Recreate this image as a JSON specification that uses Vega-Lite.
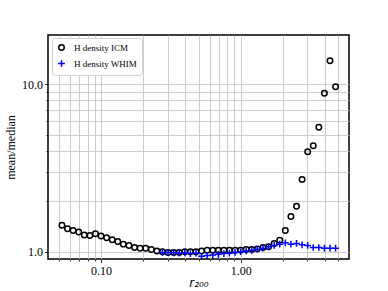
{
  "$schema": "https://vega.github.io/schema/vega-lite/v6.json",
  "autosize": "none",
  "width": 301,
  "height": 224,
  "padding": {"left": 48, "top": 35, "right": 39, "bottom": 32},
  "background": "white",
  "config": {
    "view": {"stroke": "black", "strokeWidth": 1.5},
    "axis": {"domain": false, "labelColor": "black", "titleColor": "black", "tickColor": "black", "tickWidth": 0.8}
  },
  "data": {"values": [
    {"r": 0.0525, "v": 1.44, "s": "H density ICM"},
    {"r": 0.0575, "v": 1.37, "s": "H density ICM"},
    {"r": 0.0631, "v": 1.34, "s": "H density ICM"},
    {"r": 0.0692, "v": 1.31, "s": "H density ICM"},
    {"r": 0.0759, "v": 1.26, "s": "H density ICM"},
    {"r": 0.0832, "v": 1.25, "s": "H density ICM"},
    {"r": 0.0912, "v": 1.28, "s": "H density ICM"},
    {"r": 0.1, "v": 1.24, "s": "H density ICM"},
    {"r": 0.1096, "v": 1.21, "s": "H density ICM"},
    {"r": 0.1202, "v": 1.18, "s": "H density ICM"},
    {"r": 0.1318, "v": 1.15, "s": "H density ICM"},
    {"r": 0.1445, "v": 1.11, "s": "H density ICM"},
    {"r": 0.1585, "v": 1.09, "s": "H density ICM"},
    {"r": 0.1738, "v": 1.06, "s": "H density ICM"},
    {"r": 0.1905, "v": 1.05, "s": "H density ICM"},
    {"r": 0.2089, "v": 1.05, "s": "H density ICM"},
    {"r": 0.2291, "v": 1.03, "s": "H density ICM"},
    {"r": 0.2512, "v": 1.01, "s": "H density ICM"},
    {"r": 0.2754, "v": 1.0, "s": "H density ICM"},
    {"r": 0.302, "v": 0.99, "s": "H density ICM"},
    {"r": 0.3311, "v": 0.99, "s": "H density ICM"},
    {"r": 0.3631, "v": 0.99, "s": "H density ICM"},
    {"r": 0.3981, "v": 1.0, "s": "H density ICM"},
    {"r": 0.4365, "v": 1.0, "s": "H density ICM"},
    {"r": 0.4786, "v": 1.0, "s": "H density ICM"},
    {"r": 0.5248, "v": 1.01, "s": "H density ICM"},
    {"r": 0.5754, "v": 1.02, "s": "H density ICM"},
    {"r": 0.631, "v": 1.02, "s": "H density ICM"},
    {"r": 0.6918, "v": 1.02, "s": "H density ICM"},
    {"r": 0.7586, "v": 1.02, "s": "H density ICM"},
    {"r": 0.8318, "v": 1.02, "s": "H density ICM"},
    {"r": 0.912, "v": 1.02, "s": "H density ICM"},
    {"r": 1.0, "v": 1.02, "s": "H density ICM"},
    {"r": 1.0965, "v": 1.03, "s": "H density ICM"},
    {"r": 1.2023, "v": 1.03, "s": "H density ICM"},
    {"r": 1.3183, "v": 1.04, "s": "H density ICM"},
    {"r": 1.4454, "v": 1.06, "s": "H density ICM"},
    {"r": 1.5849, "v": 1.07, "s": "H density ICM"},
    {"r": 1.7378, "v": 1.12, "s": "H density ICM"},
    {"r": 1.9055, "v": 1.17, "s": "H density ICM"},
    {"r": 2.0893, "v": 1.34, "s": "H density ICM"},
    {"r": 2.2909, "v": 1.62, "s": "H density ICM"},
    {"r": 2.5119, "v": 1.87, "s": "H density ICM"},
    {"r": 2.7542, "v": 2.7, "s": "H density ICM"},
    {"r": 3.02, "v": 3.95, "s": "H density ICM"},
    {"r": 3.3113, "v": 4.29, "s": "H density ICM"},
    {"r": 3.6308, "v": 5.52, "s": "H density ICM"},
    {"r": 3.9811, "v": 8.8, "s": "H density ICM"},
    {"r": 4.3652, "v": 13.77, "s": "H density ICM"},
    {"r": 4.7863, "v": 9.64, "s": "H density ICM"},
    {"r": 0.2754, "v": 0.99, "s": "H density WHIM"},
    {"r": 0.302, "v": 0.99, "s": "H density WHIM"},
    {"r": 0.3311, "v": 0.985, "s": "H density WHIM"},
    {"r": 0.3631, "v": 0.98, "s": "H density WHIM"},
    {"r": 0.3981, "v": 0.985, "s": "H density WHIM"},
    {"r": 0.4365, "v": 0.975, "s": "H density WHIM"},
    {"r": 0.4786, "v": 0.98, "s": "H density WHIM"},
    {"r": 0.5248, "v": 0.94, "s": "H density WHIM"},
    {"r": 0.5754, "v": 0.95, "s": "H density WHIM"},
    {"r": 0.631, "v": 0.955, "s": "H density WHIM"},
    {"r": 0.6918, "v": 0.965, "s": "H density WHIM"},
    {"r": 0.7586, "v": 0.975, "s": "H density WHIM"},
    {"r": 0.8318, "v": 0.98, "s": "H density WHIM"},
    {"r": 0.912, "v": 0.99, "s": "H density WHIM"},
    {"r": 1.0, "v": 1.0, "s": "H density WHIM"},
    {"r": 1.0965, "v": 1.01, "s": "H density WHIM"},
    {"r": 1.2023, "v": 1.02, "s": "H density WHIM"},
    {"r": 1.3183, "v": 1.035, "s": "H density WHIM"},
    {"r": 1.4454, "v": 1.05, "s": "H density WHIM"},
    {"r": 1.5849, "v": 1.07, "s": "H density WHIM"},
    {"r": 1.7378, "v": 1.09, "s": "H density WHIM"},
    {"r": 1.9055, "v": 1.11, "s": "H density WHIM"},
    {"r": 2.0893, "v": 1.13, "s": "H density WHIM"},
    {"r": 2.2909, "v": 1.11, "s": "H density WHIM"},
    {"r": 2.5119, "v": 1.12, "s": "H density WHIM"},
    {"r": 2.7542, "v": 1.1, "s": "H density WHIM"},
    {"r": 3.02, "v": 1.09, "s": "H density WHIM"},
    {"r": 3.3113, "v": 1.06, "s": "H density WHIM"},
    {"r": 3.6308, "v": 1.06, "s": "H density WHIM"},
    {"r": 3.9811, "v": 1.05, "s": "H density WHIM"},
    {"r": 4.3652, "v": 1.05, "s": "H density WHIM"},
    {"r": 4.7863, "v": 1.05, "s": "H density WHIM"}
  ]},
  "mark": {"type": "point", "filled": false, "strokeWidth": 1.5, "opacity": 1},
  "encoding": {
    "x": {
      "field": "r", "type": "quantitative",
      "scale": {"type": "log", "domain": [0.0417, 5.97], "nice": false},
      "axis": {
        "values": [0.05, 0.06, 0.07, 0.08, 0.09, 0.1, 0.2, 0.3, 0.4, 0.5, 0.6, 0.7, 0.8, 0.9, 1, 2, 3, 4, 5],
        "labelExpr": "datum.value == 0.1 ? '0.10' : (datum.value == 1 ? '1.00' : '')",
        "tickSize": {"condition": {"test": "datum.value == 0.1 || datum.value == 1", "value": 3.5}, "value": 2},
        "grid": true, "gridColor": "#c0c0c0", "gridWidth": 0.8,
        "labelFont": "Liberation Serif", "labelFontSize": 12, "labelPadding": 3,
        "title": "r₂₀₀", "titleFont": "DejaVu Sans", "titleFontStyle": "italic", "titleFontWeight": "normal",
        "titleFontSize": 12, "titlePadding": 1
      }
    },
    "y": {
      "field": "v", "type": "quantitative",
      "scale": {"type": "log", "domain": [0.905, 19.6], "nice": false},
      "axis": {
        "values": [1, 2, 3, 4, 5, 6, 7, 8, 9, 10],
        "labelExpr": "datum.value == 1 ? '1.0' : (datum.value == 10 ? '10.0' : '')",
        "tickSize": {"condition": {"test": "datum.value == 1 || datum.value == 10", "value": 3.5}, "value": 2},
        "grid": true, "gridColor": "#c0c0c0", "gridWidth": 0.8,
        "labelFont": "Liberation Serif", "labelFontSize": 12, "labelPadding": 2,
        "title": "mean/median", "titleFont": "Liberation Serif", "titleFontWeight": "normal",
        "titleFontSize": 12, "titlePadding": 4
      }
    },
    "shape": {
      "field": "s", "type": "nominal",
      "scale": {"domain": ["H density ICM", "H density WHIM"], "range": ["circle", "M-1,0L1,0M0,-1L0,1"]}
    },
    "stroke": {
      "field": "s", "type": "nominal",
      "scale": {"domain": ["H density ICM", "H density WHIM"], "range": ["black", "blue"]},
      "legend": {
        "title": null, "orient": "none", "legendX": 4, "legendY": 3,
        "labelFont": "Liberation Serif", "labelFontSize": 9, "labelColor": "black",
        "strokeColor": "#d0d0d0", "fillColor": "white", "cornerRadius": 3, "padding": 5,
        "symbolStrokeWidth": 1.5, "rowPadding": 3, "labelOffset": 8
      }
    },
    "size": {
      "field": "s", "type": "nominal",
      "scale": {"domain": ["H density ICM", "H density WHIM"], "range": [30, 45]}
    }
  }
}
